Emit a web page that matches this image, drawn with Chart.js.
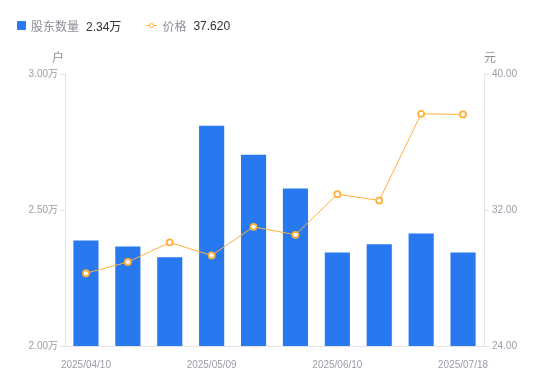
<!DOCTYPE html>
<html>
<head>
<meta charset="utf-8">
<script src="https://cdn.jsdelivr.net/npm/chart.js@4"></script>
<style>
  html, body { margin: 0; padding: 0; background: #fff; }
  #wrap { position: relative; width: 550px; height: 381px; }
  #chart { position: absolute; left: 0; top: 0; }
  .legend { position: absolute; top: 17px; left: 17px; font: 12px "Liberation Sans", "Noto Sans CJK SC", sans-serif; display: flex; align-items: center; }
  .legend .item { display: flex; align-items: center; margin-right: 25px; }
  .legend .sq { width: 9px; height: 9px; background: #2878f0; border-radius: 1px; margin-right: 5px; }
  .legend .ln { position: relative; width: 11px; height: 9px; margin-right: 5px; }
  .legend .ln::before { content: ''; position: absolute; left: 0; right: 0; top: 4px; height: 1px; background: #ffb13b; }
  .legend .ln::after { content: ''; position: absolute; left: 2.5px; top: 1.5px; width: 3px; height: 3px; border: 1.5px solid #ffb13b; border-radius: 50%; background: #fff; }
  .legend .name { color: #8d8f99; margin-right: 7px; }
  .legend .val { color: #333; }
</style>
</head>
<body>
<div id="wrap">
  <canvas id="chart" width="550" height="381"></canvas>
  <div class="legend">
    <div class="item"><span class="sq"></span><span class="name">股东数量</span><span class="val">2.34万</span></div>
    <div class="item"><span class="ln"></span><span class="name">价格</span><span class="val">37.620</span></div>
  </div>
</div>
<script>
'use strict';

// ── Data ──────────────────────────────────────────────────────
const dates = ['2025/04/10', '2025/04/18', '2025/04/30', '2025/05/09', '2025/05/20',
               '2025/05/30', '2025/06/10', '2025/06/20', '2025/06/30', '2025/07/18'];
const holders = [23880, 23660, 23260, 28100, 27030, 25790, 23440, 23740, 24140, 23440];
const prices  = [28.28, 28.94, 30.09, 29.33, 31.01, 30.54, 32.93, 32.56, 37.66, 37.62];
const shownDateIdx = [0, 3, 6, 9];
const leftTicks  = [20000, 25000, 30000];
const rightTicks = [24, 32, 40];

const TICK_COLOR = '#9b9ca8';
const LINE_COLOR = '#e4e4e8';
const FONT = { family: '"Liberation Sans", "Noto Sans CJK SC", sans-serif', size: 10 };

// axis unit labels above the y axes
const unitLabels = {
  id: 'unitLabels',
  afterDraw(chart) {
    const { ctx, chartArea } = chart;
    ctx.save();
    ctx.font = '12px "Noto Sans CJK SC", sans-serif';
    ctx.fillStyle = '#8d8f99';
    ctx.textBaseline = 'middle';
    ctx.textAlign = 'center';
    ctx.fillText('户', chartArea.left - 7, 57);
    ctx.fillText('元', chartArea.right + 6, 57);
    ctx.restore();
  }
};

new Chart(document.getElementById('chart'), {
  data: {
    labels: dates,
    datasets: [
      {
        type: 'line',
        label: '价格',
        data: prices,
        yAxisID: 'yR',
        borderColor: '#ffb13b',
        borderWidth: 1,
        pointRadius: 3,
        pointBorderWidth: 1.8,
        pointBackgroundColor: '#fff',
        pointBorderColor: '#ffb13b',
        tension: 0,
        order: 0,
      },
      {
        type: 'bar',
        label: '股东数量',
        data: holders,
        yAxisID: 'yL',
        backgroundColor: '#2878f0',
        borderWidth: 0,
        categoryPercentage: 1,
        barPercentage: 0.6,
        order: 1,
      },
    ],
  },
  options: {
    responsive: false,
    animation: false,
    layout: { padding: { top: 74, left: 0, right: 0, bottom: 0 } },
    plugins: { legend: { display: false }, tooltip: { enabled: false } },
    scales: {
      x: {
        grid: { display: false },
        border: { color: LINE_COLOR },
        ticks: {
          autoSkip: false,
          maxRotation: 0,
          color: TICK_COLOR,
          font: FONT,
          padding: 5,
          callback: (v, i) => shownDateIdx.includes(i) ? dates[i] : '',
        },
        afterFit: s => { s.height = 35; },
      },
      yL: {
        position: 'left',
        min: 20000,
        max: 30000,
        afterBuildTicks: s => { s.ticks = leftTicks.map(v => ({ value: v })); },
        grid: { drawOnChartArea: false, color: LINE_COLOR, tickLength: 5 },
        border: { color: LINE_COLOR },
        ticks: {
          color: TICK_COLOR,
          font: FONT,
          padding: 2,
          callback: v => (v / 10000).toFixed(2) + '万',
        },
        afterFit: s => { s.width = 65; },
      },
      yR: {
        position: 'right',
        min: 24,
        max: 40,
        afterBuildTicks: s => { s.ticks = rightTicks.map(v => ({ value: v })); },
        grid: { drawOnChartArea: false, color: LINE_COLOR, tickLength: 5 },
        border: { color: LINE_COLOR },
        ticks: {
          color: TICK_COLOR,
          font: FONT,
          padding: 3,
          callback: v => v.toFixed(2),
        },
        afterFit: s => { s.width = 66; },
      },
    },
  },
  plugins: [unitLabels],
});
</script>
</body>
</html>
